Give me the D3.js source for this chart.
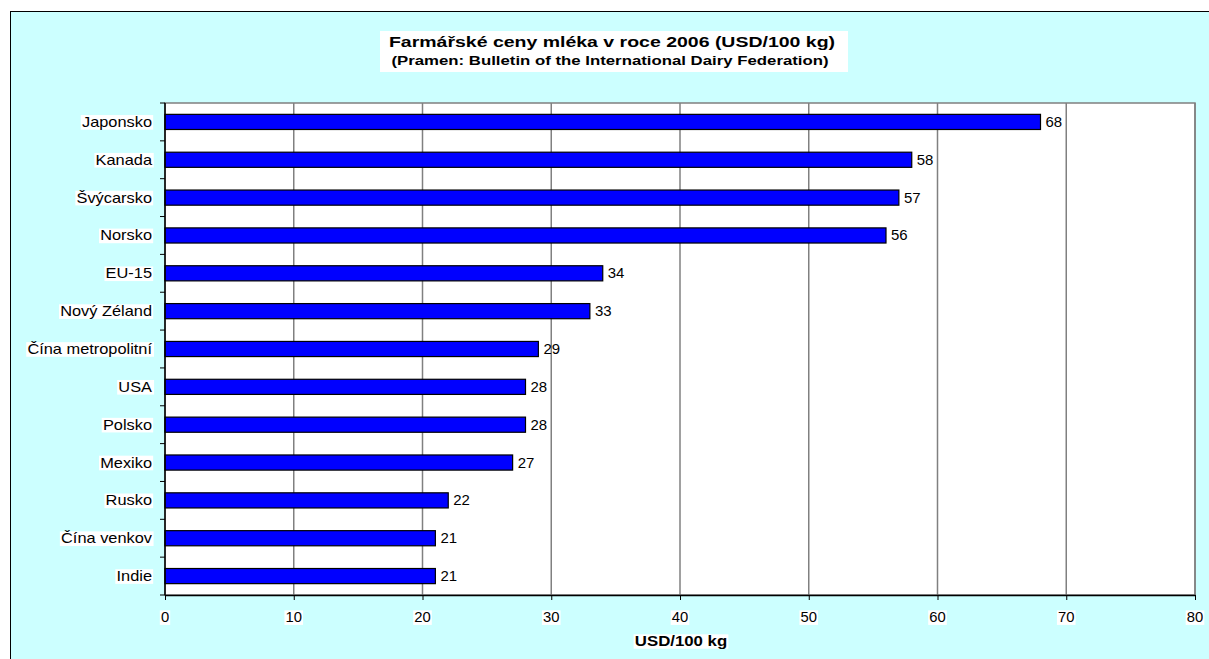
<!DOCTYPE html>
<html><head><meta charset="utf-8">
<script src="https://cdn.jsdelivr.net/npm/d3@7"></script>
<style>html,body{margin:0;padding:0;background:#fff;} svg{display:block;font-family:Arial,"Liberation Sans",sans-serif;}</style>
</head><body>
<script>
const categories = ["Japonsko","Kanada","Švýcarsko","Norsko","EU-15","Nový Zéland","Čína metropolitní","USA","Polsko","Mexiko","Rusko","Čína venkov","Indie"];
const values = [68,58,57,56,34,33,29,28,28,27,22,21,21];
const xTicks = [0,10,20,30,40,50,60,70,80];
const title = "Farmářské ceny mléka v roce 2006 (USD/100 kg)";
const subtitle = "(Pramen: Bulletin of the International Dairy Federation)";
const xAxisTitle = "USD/100 kg";

const W = 1209, H = 659;
const svg = d3.select("body").append("svg").attr("width", W).attr("height", H);
svg.append("rect").attr("x",10.5).attr("y",11.5).attr("width",W).attr("height",H)
  .attr("fill","#CCFFFF").attr("stroke","#000").attr("stroke-width",1);

const L = 165, R = 1195, T = 103, B = 595;
const x = d3.scaleLinear().domain([0,80]).range([L,R]);
const y = d3.scaleBand().domain(categories).range([T,B]).paddingInner(0.6).paddingOuter(0.3);
const yb = d3.scaleBand().domain(categories).range([T,B]);

// helper: stretched text with optional white box
function label(parent, tx, ty, str, opts){
  const g = parent.append("g").attr("transform",`translate(${tx},${ty}) scale(${opts.sx||1},1)`);
  const t = g.append("text").attr("x",0).attr("y",0)
    .attr("text-anchor",opts.anchor||"start")
    .attr("font-size",opts.size||14)
    .attr("font-weight",opts.weight||"normal")
    .attr("fill","#000").text(str);
  if(opts.box){
    const bb = t.node().getBBox();
    g.insert("rect","text").attr("x",bb.x-1).attr("y",bb.y+1).attr("width",bb.width+2).attr("height",bb.height-1).attr("fill","#fff");
  }
  return g;
}

// plot area
svg.append("rect").attr("x",L).attr("y",T).attr("width",R-L).attr("height",B-T)
  .attr("fill","#fff").attr("stroke","#808080").attr("stroke-width",1.5);

// gridlines
svg.append("g").selectAll("line").data(xTicks.filter(d=>d>0)).join("line")
  .attr("x1",d=>x(d)).attr("x2",d=>x(d)).attr("y1",T).attr("y2",B)
  .attr("stroke","#808080").attr("stroke-width",1.5);

// bars
svg.append("g").selectAll("rect").data(values).join("rect")
  .attr("x",x(0)).attr("y",(d,i)=>y(categories[i]))
  .attr("width",d=>x(d)-x(0)).attr("height",y.bandwidth())
  .attr("fill","#0000FF").attr("stroke","#000").attr("stroke-width",1.2);

// value labels
const vg = svg.append("g");
values.forEach((v,i)=>{
  const cy = y(categories[i]) + y.bandwidth()/2 + 5;
  label(vg, x(v)+5, cy, String(v), {size:14, sx:1.07});
});

// x axis
const xAxis = svg.append("g").attr("transform",`translate(0,${B})`)
  .call(d3.axisBottom(x).tickValues(xTicks).tickSize(5).tickSizeOuter(0).tickFormat(""));
xAxis.select(".domain").attr("stroke","#000").attr("stroke-width",1.5);
xAxis.selectAll(".tick line").attr("stroke","#000");
const xl = svg.append("g");
xTicks.forEach(t=>label(xl, x(t), 622, String(t), {size:14, sx:1.06, anchor:"middle", box:true}));

// y axis
const yAxis = svg.append("g").attr("transform",`translate(${L},0)`);
yAxis.append("line").attr("x1",0).attr("x2",0).attr("y1",T).attr("y2",B).attr("stroke","#000").attr("stroke-width",1.5);
const bounds = categories.map(c=>yb(c)).concat([B]);
yAxis.selectAll(".tk").data(bounds).join("line").attr("class","tk")
  .attr("x1",-5).attr("x2",0).attr("y1",d=>d).attr("y2",d=>d).attr("stroke","#000");
categories.forEach(c=>label(yAxis, -13, y(c)+y.bandwidth()/2+5, c, {size:14, sx:1.17, anchor:"end", box:true}));

// title
const tg = svg.append("g");
tg.append("rect").attr("x",380).attr("y",31).attr("width",468).attr("height",41).attr("fill","#fff");
label(tg, 612, 47, title, {size:15, weight:"bold", sx:1.3, anchor:"middle"});
label(tg, 610, 65, subtitle, {size:12, weight:"bold", sx:1.4, anchor:"middle"});

// axis title
label(svg, 681, 646, xAxisTitle, {size:14, weight:"bold", sx:1.2, anchor:"middle", box:true});
</script>
</body></html>
